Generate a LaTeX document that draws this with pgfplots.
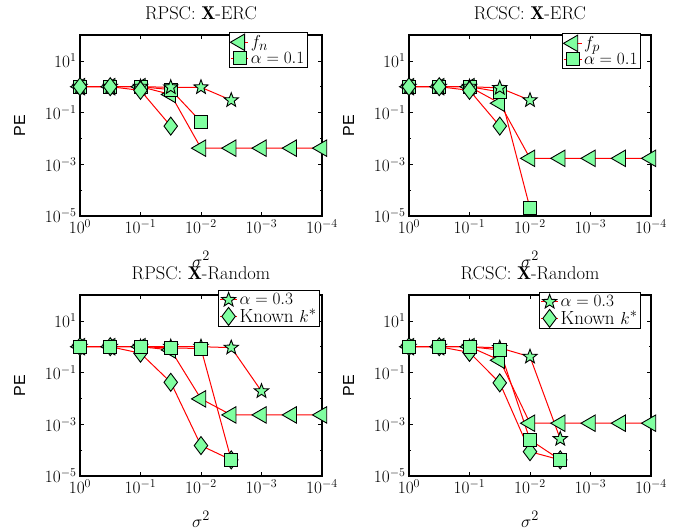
\documentclass[border=0pt]{standalone}
\usepackage{pgfplots}
\pgfplotsset{compat=1.18}
\usepackage{fontspec}
\newfontfamily\arialf{Liberation Sans}
\definecolor{mgreen}{RGB}{128,255,160}
\pgfdeclareplotmark{pentagram}{%
 \pgfpathmoveto{\pgfpointpolar{90}{\pgfplotmarksize}}%
 \pgfpathlineto{\pgfpointpolar{126}{0.42\pgfplotmarksize}}%
 \pgfpathlineto{\pgfpointpolar{162}{\pgfplotmarksize}}%
 \pgfpathlineto{\pgfpointpolar{198}{0.42\pgfplotmarksize}}%
 \pgfpathlineto{\pgfpointpolar{234}{\pgfplotmarksize}}%
 \pgfpathlineto{\pgfpointpolar{270}{0.42\pgfplotmarksize}}%
 \pgfpathlineto{\pgfpointpolar{306}{\pgfplotmarksize}}%
 \pgfpathlineto{\pgfpointpolar{342}{0.42\pgfplotmarksize}}%
 \pgfpathlineto{\pgfpointpolar{18}{\pgfplotmarksize}}%
 \pgfpathlineto{\pgfpointpolar{54}{0.42\pgfplotmarksize}}%
 \pgfpathclose
 \pgfusepathqfillstroke}
\tikzset{
 tri/.style={red, line width=1pt, mark=triangle*, mark size=9.5pt, mark options={solid, draw=black, fill=mgreen, rotate=90, line width=0.9pt}},
 sq/.style={red, line width=1pt, mark=square*, mark size=6.5pt, mark options={solid, draw=black, fill=mgreen, line width=0.9pt}},
 st/.style={red, line width=1pt, mark=pentagram, mark size=7.5pt, mark options={solid, draw=black, fill=mgreen, line width=0.9pt}},
 dia/.style={red, line width=1pt, mark=diamond*, mark size=9pt, mark options={solid, draw=black, fill=mgreen, line width=0.9pt}},
}
\pgfplotsset{
 every axis/.append style={
  scale only axis, width=242pt, height=181pt,
  x dir=reverse,
  xmin=1e-4, xmax=1, ymin=1e-5, ymax=100,
  xtick={1,0.1,0.01,0.001,0.0001},
  ytick={1e-5,1e-3,1e-1,10},
  minor ytick={1e-4,1e-2,1,100},
  axis line style={line width=1.2pt},
  major tick length=4pt, minor tick length=2pt,
  tick style={black, line width=0.6pt},
  tick label style={font=\fontsize{17}{20}\selectfont},
  clip=false,
  title style={at={(axis description cs:0.5,1.055)}, anchor=base, font=\fontsize{18.5}{22}\selectfont},
  xlabel={$\sigma^2$},
  xlabel style={at={(axis description cs:0.5,-0.282)}, anchor=base, font=\fontsize{19}{22}\selectfont},
  ylabel={\arialf PE},
  ylabel style={at={(axis description cs:-0.25,0.5)}, anchor=center, font=\fontsize{16}{19}\selectfont},
  legend cell align=left,
  legend style={draw=black, line width=1.2pt, fill=white, font=\fontsize{19}{22}\selectfont, inner sep=1pt, row sep=-1pt},
 }
}
\begin{document}
\begin{tikzpicture}
\useasboundingbox (0,0) rectangle (675pt,529pt);
% Top-left
\begin{loglogaxis}[at={(80pt,313pt)}, anchor=south west,
  title={RPSC: $\mathbf{X}$-ERC},
  legend style={at={(0.942,1.017)}, anchor=north east}]
\addplot[tri] coordinates {(1,1) (0.316228,1) (0.1,1) (0.0316228,0.5) (0.01,0.0042) (0.00316228,0.0042) (0.001,0.0042) (0.000316228,0.0042) (0.0001,0.0042)};
\addlegendentry{$f_n$}
\addplot[sq] coordinates {(1,1) (0.316228,1) (0.1,1) (0.0316228,0.77) (0.01,0.044)};
\addlegendentry{$\alpha=0.1$}
\addplot[st, forget plot] coordinates {(1,1) (0.316228,1) (0.1,1) (0.0316228,0.95) (0.01,0.95) (0.00316228,0.3)};
\addplot[dia, forget plot] coordinates {(1,1) (0.316228,1) (0.1,0.72) (0.0316228,0.03)};
\end{loglogaxis}
% Top-right
\begin{loglogaxis}[at={(409pt,313pt)}, anchor=south west,
  title={RCSC: $\mathbf{X}$-ERC},
  legend style={at={(0.959,1.011)}, anchor=north east}]
\addplot[tri] coordinates {(1,1) (0.316228,1) (0.1,1) (0.0316228,0.23) (0.01,0.0017) (0.00316228,0.0017) (0.001,0.0017) (0.000316228,0.0017) (0.0001,0.0017)};
\addlegendentry{$f_p$}
\addplot[sq] coordinates {(1,1) (0.316228,1) (0.1,1) (0.0316228,0.63) (0.01,0.00002)};
\addlegendentry{$\alpha=0.1$}
\addplot[st, forget plot] coordinates {(1,1) (0.316228,1) (0.1,1) (0.0316228,0.9) (0.01,0.3)};
\addplot[dia, forget plot] coordinates {(1,1) (0.316228,1) (0.1,0.72) (0.0316228,0.03)};
\end{loglogaxis}
% Bottom-left
\begin{loglogaxis}[at={(80pt,53pt)}, anchor=south west,
  title={RPSC: $\mathbf{X}$-Random},
  legend style={at={(0.992,1.028)}, anchor=north east}]
\addplot[tri, forget plot] coordinates {(1,1) (0.316228,1) (0.1,1) (0.0316228,0.75) (0.01,0.0096) (0.00316228,0.0023) (0.001,0.0023) (0.000316228,0.0023) (0.0001,0.0023)};
\addplot[st] coordinates {(1,1) (0.316228,1) (0.1,1) (0.0316228,1) (0.01,1) (0.00316228,0.92) (0.001,0.019)};
\addlegendentry{$\alpha=0.3$}
\addplot[dia] coordinates {(1,1) (0.316228,1) (0.1,0.56) (0.0316228,0.042) (0.01,0.00015) (0.00316228,0.000042)};
\addlegendentry{Known $k^{*}$}
\addplot[sq, forget plot] coordinates {(1,1) (0.316228,1) (0.1,1) (0.0316228,0.9) (0.01,0.85) (0.00316228,0.000042)};
\end{loglogaxis}
% Bottom-right
\begin{loglogaxis}[at={(409pt,53pt)}, anchor=south west,
  title={RCSC: $\mathbf{X}$-Random},
  legend style={at={(0.959,1.017)}, anchor=north east}]
\addplot[tri, forget plot] coordinates {(1,1) (0.316228,1) (0.1,1) (0.0316228,0.3) (0.01,0.0011) (0.00316228,0.0011) (0.001,0.0011) (0.000316228,0.0011) (0.0001,0.0011)};
\addplot[st] coordinates {(1,1) (0.316228,1) (0.1,1) (0.0316228,0.9) (0.01,0.41) (0.00316228,0.00027)};
\addlegendentry{$\alpha=0.3$}
\addplot[dia] coordinates {(1,1) (0.316228,1) (0.1,0.6) (0.0316228,0.04) (0.01,0.000087) (0.00316228,0.000042)};
\addlegendentry{Known $k^{*}$}
\addplot[sq, forget plot] coordinates {(1,1) (0.316228,1) (0.1,1) (0.0316228,0.75) (0.01,0.00025) (0.00316228,0.000042)};
\end{loglogaxis}
\end{tikzpicture}
\end{document}
